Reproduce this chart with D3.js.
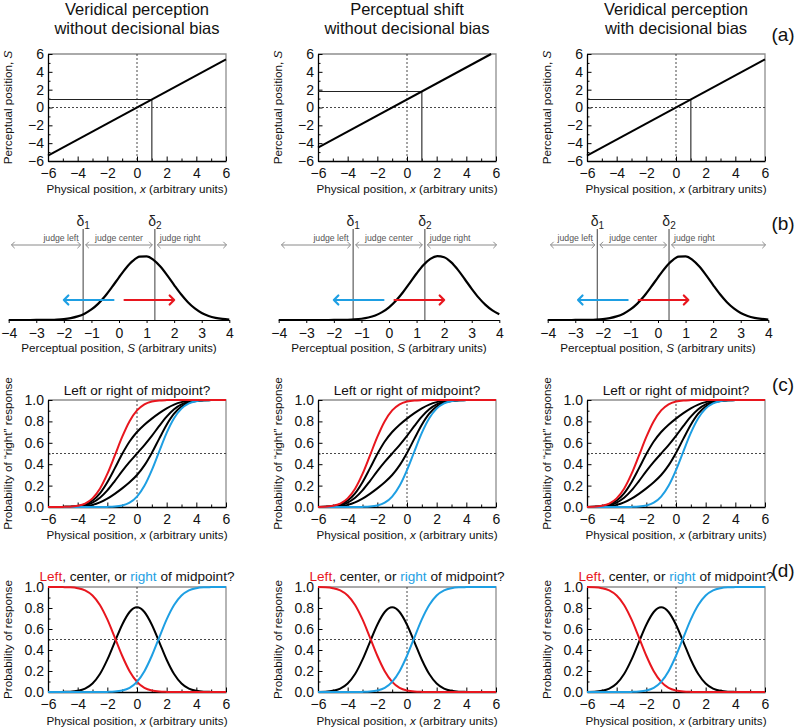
<!DOCTYPE html>
<html><head><meta charset="utf-8">
<script src="https://cdn.jsdelivr.net/npm/d3@7"></script>
<style>
body{margin:0;background:#fff;}
text{font-family:"Liberation Sans",Arial,Helvetica,sans-serif;}
</style></head><body>
<svg id="fig" width="800" height="727"></svg>
<script>
// ---------------- DATA ----------------
const columnTitles = [
  ["Veridical perception", "without decisional bias"],
  ["Perceptual shift", "without decisional bias"],
  ["Veridical perception", "with decisional bias"]
];
const rowLabels = ["(a)", "(b)", "(c)", "(d)"];

// (a) perceptual mapping S(x)
const mapX = [[-6, 6], [-6, 5.67], [-6, 6]];
const mapS = [[-5.4, 5.4], [-4.5, 6.0], [-5.4, 5.4]];
const refX = [1, 1, 1];
const refS = [0.9, 1.8, 0.9];
const aMajorTicks = [-6, -4, -2, 0, 2, 4, 6];
const aMinorTicks = [-5, -3, -1, 1, 3, 5];

// (b) internal distribution, criteria, arrows
const sGrid = [-4,-3.75,-3.5,-3.25,-3,-2.75,-2.5,-2.25,-2,-1.75,-1.5,-1.25,-1,-0.75,-0.5,-0.25,0,0.25,0.5,0.75,1,1.25,1.5,1.75,2,2.25,2.5,2.75,3,3.25,3.5,3.75,4];
const densityVeridical = [0,0,0.0001,0.0002,0.0005,0.0013,0.0031,0.0070,0.0149,0.0299,0.0561,0.0992,0.1645,0.2563,0.3753,0.5163,0.6670,0.8096,0.9231,0.9888,0.9950,0.9406,0.8353,0.6969,0.5461,0.4020,0.2780,0.1807,0.1103,0.0632,0.0340,0.0172,0.0082];
const densityShifted = [0,0,0,0,0,0,0.0001,0.0003,0.0007,0.0018,0.0043,0.0096,0.0198,0.0387,0.0710,0.1223,0.1979,0.3008,0.4296,0.5764,0.7261,0.8596,0.9560,0.9988,0.9802,0.9037,0.7827,0.6368,0.4868,0.3495,0.2357,0.1494,0.0889];
const delta1 = [-1.3, -1.3, -2.2];
const delta2 = [1.3, 1.3, 0.4];
const judgeLabels = ["judge left", "judge center", "judge right"];
const judgeLimits = [-3.9, 3.9];
const blueArrow = [[-0.2, -2.0], [-0.2, -2.0], [-1.1, -2.9]];
const redArrow = [[0.2, 2.0], [0.2, 2.0], [-0.7, 1.1]];
const bTicks = [-4, -3, -2, -1, 0, 1, 2, 3, 4];

// (c),(d) psychometric curves
const xGrid = [-6,-5.5,-5,-4.5,-4,-3.5,-3,-2.5,-2,-1.5,-1,-0.5,0,0.5,1,1.5,2,2.5,3,3.5,4,4.5,5,5.5,6];
const pMajorTicks = [0, 0.2, 0.4, 0.6, 0.8, 1.0];
const pMinorTicks = [0.1, 0.3, 0.5, 0.7, 0.9];

const cRedA = [0,0,0.001,0.003,0.011,0.032,0.081,0.171,0.309,0.480,0.655,0.802,0.903,0.960,0.986,0.996,0.999,1,1,1,1,1,1,1,1];
const cBlack75A = [0,0,0.001,0.002,0.008,0.024,0.061,0.128,0.232,0.361,0.495,0.612,0.701,0.769,0.826,0.877,0.922,0.957,0.980,0.992,0.997,0.999,1,1,1];
const cBlack50A = [0,0,0.001,0.002,0.006,0.016,0.041,0.086,0.155,0.242,0.335,0.421,0.5,0.579,0.665,0.758,0.845,0.914,0.959,0.984,0.994,0.998,1,1,1];
const cBlack25A = [0,0,0,0.001,0.003,0.008,0.020,0.043,0.078,0.123,0.174,0.231,0.299,0.389,0.505,0.639,0.769,0.872,0.939,0.976,0.992,0.998,0.999,1,1];
const cBlueA = [0,0,0,0,0,0,0,0,0.001,0.004,0.014,0.040,0.097,0.198,0.345,0.520,0.692,0.829,0.919,0.968,0.989,0.997,0.999,1,1];

const cRedB = [0.001,0.003,0.011,0.032,0.081,0.171,0.309,0.480,0.655,0.802,0.903,0.960,0.986,0.996,0.999,1,1,1,1,1,1,1,1,1,1];
const cBlack75B = [0.001,0.002,0.008,0.024,0.061,0.128,0.232,0.361,0.495,0.612,0.701,0.769,0.826,0.877,0.922,0.957,0.980,0.992,0.997,0.999,1,1,1,1,1];
const cBlack50B = [0.001,0.002,0.006,0.016,0.041,0.086,0.155,0.242,0.335,0.421,0.5,0.579,0.665,0.758,0.845,0.914,0.959,0.984,0.994,0.998,1,1,1,1,1];
const cBlack25B = [0,0.001,0.003,0.008,0.020,0.043,0.078,0.123,0.174,0.231,0.299,0.389,0.505,0.639,0.769,0.872,0.939,0.976,0.992,0.998,0.999,1,1,1,1];
const cBlueB = [0,0,0,0,0,0,0.001,0.004,0.014,0.040,0.097,0.198,0.345,0.520,0.692,0.829,0.919,0.968,0.989,0.997,0.999,1,1,1,1];

const dLeftA = [1,1,0.999,0.997,0.989,0.968,0.919,0.829,0.691,0.520,0.345,0.198,0.097,0.040,0.014,0.004,0.001,0,0,0,0,0,0,0,0];
const dCenterA = [0,0,0.001,0.003,0.011,0.032,0.081,0.171,0.308,0.476,0.641,0.762,0.806,0.762,0.641,0.476,0.307,0.171,0.081,0.032,0.011,0.003,0.001,0,0];
const dRightA = [0,0,0,0,0,0,0,0,0.001,0.004,0.014,0.040,0.097,0.198,0.345,0.520,0.692,0.829,0.919,0.968,0.989,0.997,0.999,1,1];
const dLeftB = [0.999,0.997,0.989,0.968,0.919,0.829,0.691,0.520,0.345,0.198,0.097,0.040,0.014,0.004,0.001,0,0,0,0,0,0,0,0,0,0];
const dCenterB = [0.001,0.003,0.011,0.032,0.081,0.171,0.308,0.476,0.641,0.762,0.806,0.762,0.641,0.476,0.307,0.171,0.081,0.032,0.011,0.003,0.001,0,0,0,0];
const dRightB = [0,0,0,0,0,0,0.001,0.004,0.014,0.040,0.097,0.198,0.345,0.520,0.692,0.829,0.919,0.968,0.989,0.997,0.999,1,1,1,1];

// ---------------- DRAWING ----------------
const svg = d3.select("#fig");
const RED = "#e8161e", BLUE = "#1e9fe3";
const colX = [48, 318, 587];
const plotW = 178;
const FONT_T = 14, FONT_L = 11.7;

function addXLabel(g, cx, yb, pre, it, post) {
  const t = g.append("text").attr("x", cx).attr("y", yb).attr("text-anchor", "middle")
    .attr("font-size", FONT_L).attr("fill", "#111");
  t.append("tspan").text(pre);
  t.append("tspan").attr("font-style", "italic").text(it);
  t.append("tspan").text(post);
}

function frame(p, top, bot, yDomain, yMajor, yMinor, yFmt, xMajor, xMinor, yLab, xLabBase, dotY) {
  const left = colX[p], right = left + plotW;
  const x = d3.scaleLinear().domain([-6, 6]).range([left, right]);
  const y = d3.scaleLinear().domain(yDomain).range([bot, top]);
  const g = svg.append("g");
  g.append("path").attr("d", `M${left},${top}H${right}V${bot}`)
    .attr("fill", "none").attr("stroke", "#8e8e8e").attr("stroke-width", 1.3);
  g.append("line").attr("x1", x(0)).attr("x2", x(0)).attr("y1", top).attr("y2", bot)
    .attr("stroke", "#333").attr("stroke-width", 0.9).attr("stroke-dasharray", "2,2");
  g.append("line").attr("x1", left).attr("x2", right).attr("y1", y(dotY)).attr("y2", y(dotY))
    .attr("stroke", "#333").attr("stroke-width", 0.9).attr("stroke-dasharray", "2,2");
  g.append("g").attr("transform", `translate(${left},0)`)
    .call(d3.axisLeft(y).tickValues(yMinor).tickSize(-2.5).tickFormat(""))
    .call(s => s.select(".domain").remove());
  g.append("g").attr("transform", `translate(0,${bot})`)
    .call(d3.axisBottom(x).tickValues(xMinor).tickSize(-2.5).tickFormat(""))
    .call(s => s.select(".domain").remove());
  const ya = g.append("g").attr("transform", `translate(${left},0)`)
    .call(d3.axisLeft(y).tickValues(yMajor).tickSizeInner(-4.5).tickSizeOuter(0).tickPadding(4).tickFormat(yFmt));
  const xa = g.append("g").attr("transform", `translate(0,${bot})`)
    .call(d3.axisBottom(x).tickValues(xMajor).tickSizeInner(-4.5).tickSizeOuter(0).tickPadding(7));
  [ya, xa].forEach(a => {
    a.attr("font-size", FONT_T);
    a.select(".domain").attr("stroke", "#000").attr("stroke-width", 1.3);
    a.selectAll("text").attr("fill", "#111");
  });
  const yl = g.append("text").attr("transform", `translate(${left - 41},${(top + bot) / 2}) rotate(-90)`)
    .attr("text-anchor", "middle").attr("dominant-baseline", "central")
    .attr("font-size", FONT_L).attr("fill", "#111");
  yLab.forEach(s => { const ts = yl.append("tspan").text(s.t); if (s.i) ts.attr("font-style", "italic"); });
  addXLabel(g, (left + right) / 2, xLabBase, "Physical position, ", "x", " (arbitrary units)");
  return { x, y, g, left, right };
}

const xMajor = [-6, -4, -2, 0, 2, 4, 6];
const xMinor = [-5, -3, -1, 1, 3, 5];

// ---- Column titles
columnTitles.forEach((t, p) => {
  const cx = colX[p] + plotW / 2;
  t.forEach((line, k) => {
    svg.append("text").attr("x", cx).attr("y", 14.5 + k * 19.5).attr("text-anchor", "middle")
      .attr("font-size", 16.5).attr("fill", "#111").text(line);
  });
});

// ---- Row (a)
for (let p = 0; p < 3; p++) {
  const f = frame(p, 54, 161, [-6, 6], aMajorTicks, aMinorTicks, d3.format("d"), xMajor, xMinor,
    [{ t: "Perceptual position, " }, { t: "S", i: true }], 193, 0);
  f.g.append("line").attr("x1", f.left).attr("x2", f.x(refX[p])).attr("y1", f.y(refS[p])).attr("y2", f.y(refS[p]))
    .attr("stroke", "#222").attr("stroke-width", 1.1);
  f.g.append("line").attr("x1", f.x(refX[p])).attr("x2", f.x(refX[p])).attr("y1", f.y(refS[p])).attr("y2", f.y(-6))
    .attr("stroke", "#444").attr("stroke-width", 1.3);
  const pts = mapX[p].map((v, i) => [v, mapS[p][i]]);
  f.g.append("path").datum(pts).attr("fill", "none").attr("stroke", "#000").attr("stroke-width", 2)
    .attr("d", d3.line().x(d => f.x(d[0])).y(d => f.y(d[1])));
}

// ---- Row (b)
const bLeft = colX.map(v => v - 39.3);
const bW = 220.6;
const densities = [densityVeridical, densityShifted, densityVeridical];
function chevron(tx, y, dir, h) {
  return `M${tx - dir * h},${y - h}L${tx},${y}L${tx - dir * h},${y + h}`;
}
for (let p = 0; p < 3; p++) {
  const x = d3.scaleLinear().domain([-4, 4]).range([bLeft[p], bLeft[p] + bW]);
  const y = d3.scaleLinear().domain([0, 1]).range([320, 256]);
  const g = svg.append("g");
  const ax = g.append("g").attr("transform", "translate(0,320)")
    .call(d3.axisBottom(x).tickValues(bTicks).tickSizeInner(3).tickSizeOuter(0).tickPadding(5));
  ax.attr("font-size", FONT_T);
  ax.select(".domain").attr("stroke", "#000").attr("stroke-width", 1.2);
  ax.selectAll("text").attr("fill", "#111");
  addXLabel(g, bLeft[p] + bW / 2, 352, "Perceptual position, ", "S", " (arbitrary units)");
  [delta1[p], delta2[p]].forEach((d, k) => {
    g.append("line").attr("x1", x(d)).attr("x2", x(d)).attr("y1", 229).attr("y2", 320)
      .attr("stroke", "#6a6a6a").attr("stroke-width", 1.3);
    const t = g.append("text").attr("x", x(d)).attr("y", 226).attr("text-anchor", "middle")
      .attr("font-size", 14).attr("fill", "#222");
    t.append("tspan").text("δ");
    t.append("tspan").attr("font-size", 10).attr("dy", 3).text(k === 0 ? "1" : "2");
  });
  const bounds = [judgeLimits[0], delta1[p], delta2[p], judgeLimits[1]];
  const jy = 245;
  for (let k = 0; k < 3; k++) {
    const a = x(bounds[k]) + (k === 0 ? 0 : 2.5), b = x(bounds[k + 1]) - (k === 2 ? 0 : 2.5);
    g.append("path").attr("d", `M${a},${jy}H${b}` + chevron(a, jy, -1, 3.2) + chevron(b, jy, 1, 3.2))
      .attr("fill", "none").attr("stroke", "#8a8a8a").attr("stroke-width", 1);
    let tx, anchor;
    if (k === 0) { tx = x(delta1[p]) - 4.5; anchor = "end"; }
    else if (k === 1) { tx = (x(delta1[p]) + x(delta2[p])) / 2; anchor = "middle"; }
    else { tx = x(delta2[p]) + 5; anchor = "start"; }
    g.append("text").attr("x", tx).attr("y", 240.5).attr("text-anchor", anchor)
      .attr("font-size", 8.7).attr("fill", "#555").text(judgeLabels[k]);
  }
  const pts = sGrid.map((s, i) => [s, densities[p][i]]);
  g.append("path").datum(pts).attr("fill", "none").attr("stroke", "#000").attr("stroke-width", 2.2)
    .attr("d", d3.line().curve(d3.curveMonotoneX).x(d => x(d[0])).y(d => y(d[1])));
  const ay = 300;
  [[blueArrow[p], BLUE], [redArrow[p], RED]].forEach(([ar, col]) => {
    const a = x(ar[0]), b = x(ar[1]), dir = b > a ? 1 : -1;
    g.append("path").attr("d", `M${a},${ay}H${b}` + chevron(b, ay, dir, 4.5))
      .attr("fill", "none").attr("stroke", col).attr("stroke-width", 2.2)
      .attr("stroke-linecap", "round").attr("stroke-linejoin", "round");
  });
}

// ---- Row (c)
const cSets = [
  [cBlack25A, cBlack50A, cBlack75A, cBlueA, cRedA],
  [cBlack25B, cBlack50B, cBlack75B, cBlueB, cRedB],
  [cBlack25B, cBlack50B, cBlack75B, cBlueB, cRedB]
];
const curveCols5 = ["#000", "#000", "#000", BLUE, RED];
for (let p = 0; p < 3; p++) {
  const f = frame(p, 400, 507, [0, 1], pMajorTicks, pMinorTicks, d3.format(".1f"), xMajor, xMinor,
    [{ t: "Probability of \u201Cright\u201D response" }], 539, 0.5);
  f.g.append("text").attr("x", (f.left + f.right) / 2).attr("y", 395).attr("text-anchor", "middle")
    .attr("font-size", 13.6).attr("fill", "#111").text("Left or right of midpoint?");
  cSets[p].forEach((arr, k) => {
    const pts = xGrid.map((v, i) => [v, arr[i]]);
    f.g.append("path").datum(pts).attr("fill", "none").attr("stroke", curveCols5[k]).attr("stroke-width", 2)
      .attr("d", d3.line().curve(d3.curveMonotoneX).x(d => f.x(d[0])).y(d => f.y(d[1])));
  });
}

// ---- Row (d)
const dSets = [
  [dCenterA, dLeftA, dRightA],
  [dCenterB, dLeftB, dRightB],
  [dCenterB, dLeftB, dRightB]
];
const curveCols3 = ["#000", RED, BLUE];
for (let p = 0; p < 3; p++) {
  const f = frame(p, 587, 692, [0, 1], pMajorTicks, pMinorTicks, d3.format(".1f"), xMajor, xMinor,
    [{ t: "Probability of response" }], 724.5, 0.5);
  const t = f.g.append("text").attr("x", (f.left + f.right) / 2).attr("y", 581).attr("text-anchor", "middle")
    .attr("font-size", 13.6).attr("fill", "#111");
  t.append("tspan").attr("fill", RED).text("Left");
  t.append("tspan").text(", center, or ");
  t.append("tspan").attr("fill", BLUE).text("right");
  t.append("tspan").text(" of midpoint?");
  dSets[p].forEach((arr, k) => {
    const pts = xGrid.map((v, i) => [v, arr[i]]);
    f.g.append("path").datum(pts).attr("fill", "none").attr("stroke", curveCols3[k]).attr("stroke-width", 2)
      .attr("d", d3.line().curve(d3.curveMonotoneX).x(d => f.x(d[0])).y(d => f.y(d[1])));
  });
}

// ---- Row labels
const rowLabelY = [34, 223, 384, 570];
rowLabels.forEach((l, i) => {
  svg.append("text").attr("x", 783).attr("y", rowLabelY[i]).attr("text-anchor", "middle")
    .attr("dominant-baseline", "central").attr("font-size", 19).attr("fill", "#111").text(l);
});
</script>
</body></html>
